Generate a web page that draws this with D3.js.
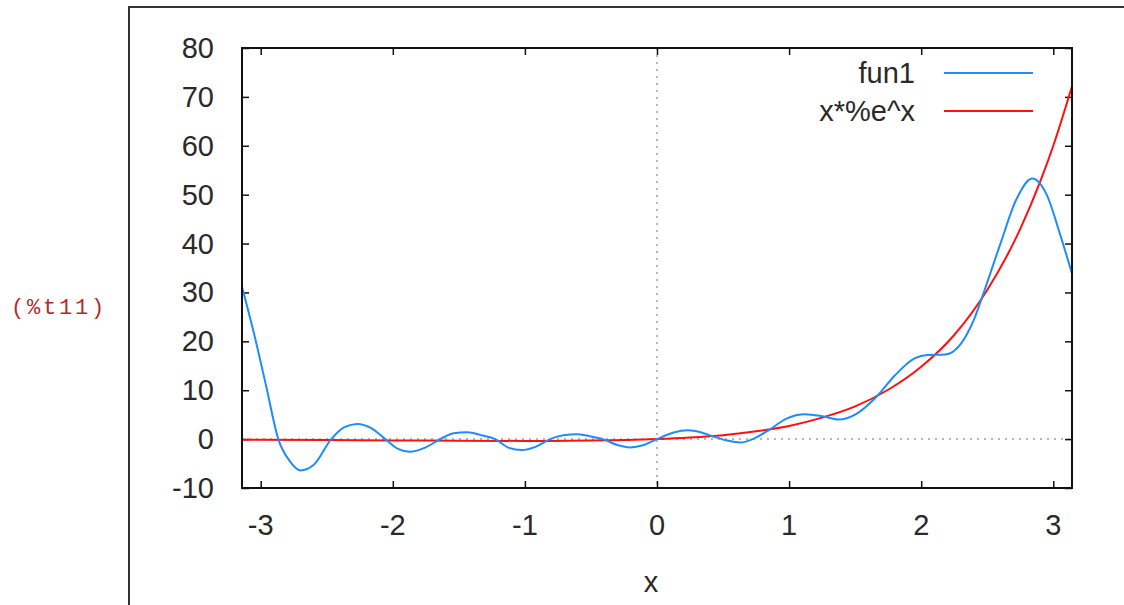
<!DOCTYPE html>
<html lang="en">
<head>
<meta charset="UTF-8">
<title>fun1 vs x*%e^x</title>
<script src="https://d3js.org/d3.v7.min.js"></script>
<style>
    body { margin: 0; background: #fff; }
    svg { display: block; }
    .tick-label { font-family: 'Liberation Sans', Arial, sans-serif; font-size: 29px; fill: #2a2a2a; }
</style>
</head>
<body>
<svg id="chart" width="1124" height="605"></svg>
<script>
// values
const xTicks = [-3, -2, -1, 0, 1, 2, 3];
const yTicks = [-10, 0, 10, 20, 30, 40, 50, 60, 70, 80];
const seriesNames = ["fun1", "x*%e^x"];

const fun1X = [-3.14, -3.05, -2.96, -2.867, -2.78, -2.70, -2.60, -2.466, -2.37, -2.27, -2.16, -2.057,
    -1.96, -1.87, -1.76, -1.64, -1.54, -1.437, -1.33, -1.225, -1.12, -1.024, -0.92, -0.81,
    -0.71, -0.607, -0.51, -0.41, -0.30, -0.204, -0.10, 0, 0.12, 0.235, 0.33, 0.42, 0.53, 0.63,
    0.74, 0.855, 0.98, 1.12, 1.25, 1.38, 1.50, 1.66, 1.80, 1.95, 2.05, 2.18, 2.30, 2.40, 2.48,
    2.60, 2.72, 2.84, 2.95, 3.05, 3.14];
const fun1Y = [31, 21.5, 11, 0, -4.5, -6.4, -5.3, 0, 2.4, 3.1, 2.2, 0,
    -2.0, -2.6, -1.8, 0, 1.2, 1.4, 0.8, 0, -1.8, -2.25, -1.6, 0,
    0.8, 1.0, 0.6, 0, -1.2, -1.7, -1.2, 0, 1.3, 1.8, 1.4, 0.6, -0.3, -0.7,
    0.2, 2.0, 4.2, 5.1, 4.7, 4.0, 5.0, 8.6, 13, 16.5, 17.2, 17.3, 19.5, 24.5, 30.5,
    40, 49, 53.3, 50, 42, 34];

const expX = [-3.14, -2.5, -2, -1.5, -1, -0.5, 0, 0.25, 0.5, 0.75, 1, 1.25, 1.5, 1.75,
    2, 2.25, 2.5, 2.75, 2.9, 3, 3.14];
const expY = [-0.14, -0.2, -0.27, -0.33, -0.37, -0.3, 0, 0.32, 0.8, 1.6, 2.7, 4.4, 6.7, 10.1,
    14.8, 21.3, 30.5, 43, 52.6, 60, 72];

const svg = d3.select("#chart");
const plot = { left: 242, top: 48, right: 1072, bottom: 488 };

const x = d3.scaleLinear().domain([-Math.PI, Math.PI]).range([plot.left, plot.right]);
const y = d3.scaleLinear().domain([-10, 80]).range([plot.bottom, plot.top]);

// outer output cell frame
svg.append("path")
    .attr("d", "M1130,7 H129 V610")
    .attr("fill", "none").attr("stroke", "#333").attr("stroke-width", 2);

svg.append("text")
    .attr("x", 11).attr("y", 314)
    .attr("font-family", "'Liberation Mono', 'DejaVu Sans Mono', monospace")
    .attr("font-size", 22).attr("letter-spacing", 2.8)
    .attr("fill", "#b02c2c")
    .text("(%t11)");

// zero axes, dotted
svg.append("line")
    .attr("x1", x(0)).attr("x2", x(0)).attr("y1", plot.top).attr("y2", plot.bottom)
    .attr("stroke", "#a0a0a0").attr("stroke-width", 1.5).attr("stroke-dasharray", "2,5");
svg.append("line")
    .attr("x1", plot.left).attr("x2", plot.right).attr("y1", y(0)).attr("y2", y(0))
    .attr("stroke", "#a0a0a0").attr("stroke-width", 1.5).attr("stroke-dasharray", "2,5");

// axes with inward ticks on all four sides
const tickLen = 7;
svg.append("g").attr("transform", `translate(0,${plot.bottom})`)
    .call(d3.axisBottom(x).tickValues(xTicks).tickSizeInner(-tickLen).tickSizeOuter(0).tickFormat(""));
svg.append("g").attr("transform", `translate(0,${plot.top})`)
    .call(d3.axisTop(x).tickValues(xTicks).tickSizeInner(-tickLen).tickSizeOuter(0).tickFormat(""));
svg.append("g").attr("transform", `translate(${plot.left},0)`)
    .call(d3.axisLeft(y).tickValues(yTicks).tickSizeInner(-tickLen).tickSizeOuter(0).tickFormat(""));
svg.append("g").attr("transform", `translate(${plot.right},0)`)
    .call(d3.axisRight(y).tickValues(yTicks).tickSizeInner(-tickLen).tickSizeOuter(0).tickFormat(""));
svg.selectAll(".domain").remove();
svg.selectAll(".tick line").attr("stroke", "#111").attr("stroke-width", 1.5);

// tick labels
svg.selectAll(".xlab").data(xTicks).join("text")
    .attr("class", "tick-label")
    .attr("x", d => x(d)).attr("y", 535)
    .attr("text-anchor", "middle")
    .text(d => d);
svg.selectAll(".ylab").data(yTicks).join("text")
    .attr("class", "tick-label")
    .attr("x", 214).attr("y", d => y(d) + 10)
    .attr("text-anchor", "end")
    .text(d => d);

svg.append("text")
    .attr("class", "tick-label")
    .attr("x", 651).attr("y", 592)
    .attr("text-anchor", "middle")
    .text("x");

// curves
const clip = svg.append("clipPath").attr("id", "clip").append("rect")
    .attr("x", plot.left).attr("y", plot.top)
    .attr("width", plot.right - plot.left).attr("height", plot.bottom - plot.top);

const line = d3.line().x(d => x(d[0])).y(d => y(d[1])).curve(d3.curveMonotoneX);

svg.append("path")
    .datum(expX.map((v, i) => [v, expY[i]]))
    .attr("clip-path", "url(#clip)")
    .attr("fill", "none").attr("stroke", "#ff1010").attr("stroke-width", 2)
    .attr("d", line);

svg.append("path")
    .datum(fun1X.map((v, i) => [v, fun1Y[i]]))
    .attr("clip-path", "url(#clip)")
    .attr("fill", "none").attr("stroke", "#1e8cff").attr("stroke-width", 2)
    .attr("d", line);

// frame
svg.append("rect")
    .attr("x", plot.left).attr("y", plot.top)
    .attr("width", plot.right - plot.left).attr("height", plot.bottom - plot.top)
    .attr("fill", "none").attr("stroke", "#111").attr("stroke-width", 2);

// legend
const keyColors = ["#1e8cff", "#ff1010"];
const keyY = [73, 111];
seriesNames.forEach((name, i) => {
    svg.append("text")
        .attr("class", "tick-label")
        .attr("x", 915).attr("y", keyY[i] + 10)
        .attr("text-anchor", "end")
        .text(name);
    svg.append("line")
        .attr("x1", 944).attr("x2", 1033).attr("y1", keyY[i]).attr("y2", keyY[i])
        .attr("stroke", keyColors[i]).attr("stroke-width", 2);
});
</script>
</body>
</html>
